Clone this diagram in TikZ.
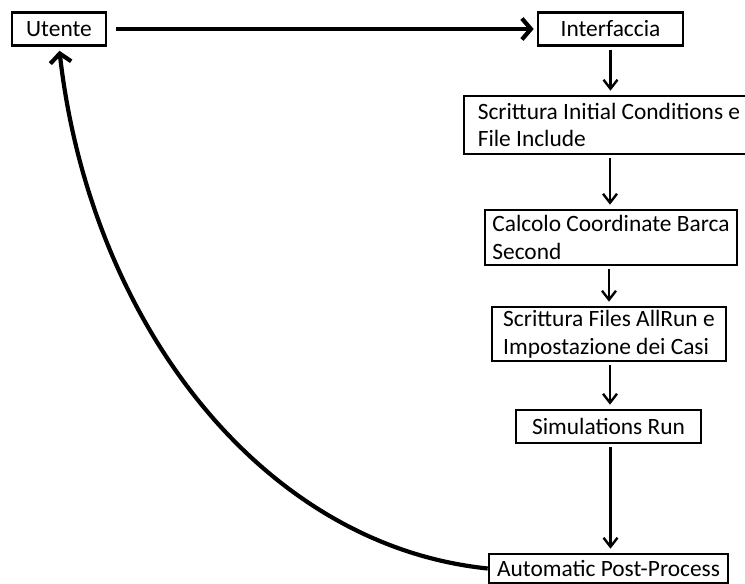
\documentclass[tikz,border=0pt]{standalone}
\usepackage{fontspec}
\setmainfont{Carlito}
\usetikzlibrary{arrows.meta,positioning}

\begin{document}
\begin{tikzpicture}[
  x=1pt, y=-1pt,
  font=\fontsize{23.4}{27.6}\selectfont,
  box/.style={rectangle, draw, line width=2.6pt, inner ysep=3pt,
              align=left, minimum height=33pt},
  flow/.style={-{Straight Barb[length=9pt,width=14pt]}, line width=2.4pt,
               shorten <=3pt, shorten >=4pt},
  bigflow/.style={-{Straight Barb[length=9pt,width=21pt]}, line width=4.2pt,
                  shorten <=9pt, shorten >=3pt}
]
\useasboundingbox (0,0) rectangle (745,584);
% top row
\node[box, minimum width=94pt]  (user)  at (59,29)    {Utente};
\node[box, minimum width=145pt] (iface) at (610.5,29) {Interfaccia};
% processing chain
\node[box, minimum width=290pt, minimum height=58pt]
  (cond) at (609,125) {Scrittura Initial Conditions e\\File Include};
\node[box, minimum width=252pt, minimum height=55pt]
  (coord) at (611,237.5) {Calcolo Coordinate Barca\\Second};
\node[box, minimum width=234pt, minimum height=54pt]
  (allrun) at (609,334) {Scrittura Files AllRun e\\Impostazione dei Casi};
\node[box, minimum width=185pt] (sim)  at (608.5,426.5) {Simulations Run};
\node[box, minimum width=239pt, minimum height=29pt]
  (post) at (608.5,568.5) {Automatic Post-Process};
% connectors
\draw[bigflow] (user) -- (iface);
\draw[flow] (iface.south) -- (iface.south |- cond.north);
\draw[flow] ([xshift=1pt]cond.south) -- ([xshift=1pt]cond.south |- coord.north);
\draw[flow] ([xshift=-2pt]coord.south) -- ([xshift=-2pt]coord.south |- allrun.north);
\draw[flow] ([xshift=1pt]allrun.south) -- ([xshift=1pt]allrun.south |- sim.north);
\draw[flow] ([xshift=2pt]sim.south) -- ([xshift=2pt]sim.south |- post.north);
% feedback to the user
\draw[bigflow, shorten <=0pt, shorten >=4pt]
  (post.west) .. controls (260,545) and (90,320) .. (user.south);
\end{tikzpicture}
\end{document}
